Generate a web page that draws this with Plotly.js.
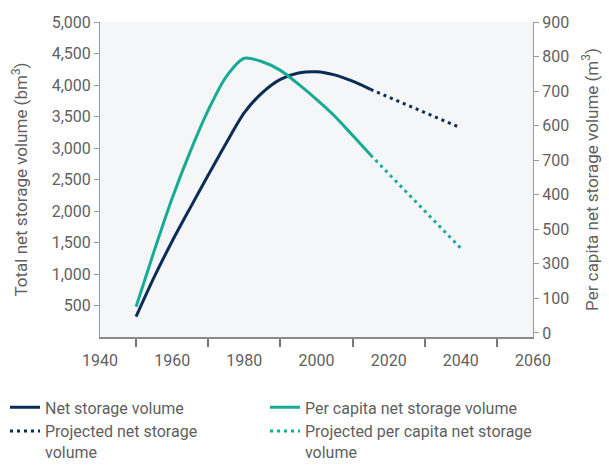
<!DOCTYPE html>
<html>
<head>
<meta charset="utf-8">
<script src="https://cdn.plot.ly/plotly-3.0.1.min.js"></script>
<style>html,body{margin:0;padding:0;background:#fff;}#chart{width:609px;height:465px;}</style>
</head>
<body>
<div id="chart"></div>
<script>
// Net storage volume (bm3), historical
const netYears = [1950, 1955, 1960, 1965, 1970, 1975, 1980, 1985, 1990, 1995, 2000, 2005, 2010, 2015];
const netVolume = [324, 950, 1520, 2050, 2570, 3080, 3560, 3880, 4090, 4190, 4210, 4160, 4060, 3930];
// Projected net storage volume
const netProjYears = [2015, 2040];
const netProjVolume = [3930, 3320];
// Per capita net storage volume (m3), historical
const pcYears = [1950, 1955, 1960, 1965, 1970, 1975, 1980, 1985, 1990, 1995, 2000, 2005, 2010, 2015];
const pcVolume = [76, 237, 390, 525, 645, 742, 795, 785, 760, 720, 676, 628, 572, 515];
// Projected per capita net storage volume
const pcProjYears = [2015, 2040];
const pcProjVolume = [515, 245];

// Axis ticks
const xLabelVals = [1940, 1960, 1980, 2000, 2020, 2040, 2060];
const xTickVals = [1950, 1970, 1990, 2010, 2030, 2050];
const leftTickVals = [500, 1000, 1500, 2000, 2500, 3000, 3500, 4000, 4500, 5000];
const rightTickVals = [900, 800, 700, 600, 500, 400, 300, 200, 100, 0];
const rightTickText = ['900', '800', '700', '600', '700', '400', '500', '300', '100', '0'];

const NAVY = '#0b2c55';
const TEAL = '#17ab96';
const GREY_TXT = '#5f5f5f';
const AXIS = '#9a9a9a';

const traces = [
  {x: netYears, y: netVolume, name: 'Net storage volume', mode: 'lines',
   line: {color: NAVY, width: 3, shape: 'spline', smoothing: 0.8}, yaxis: 'y', legend: 'legend'},
  {x: netProjYears, y: netProjVolume, name: 'Projected net storage<br>volume', mode: 'lines',
   line: {color: NAVY, width: 3, dash: '3px,4px'}, yaxis: 'y', legend: 'legend'},
  {x: pcYears, y: pcVolume, name: 'Per capita net storage volume', mode: 'lines',
   line: {color: TEAL, width: 3, shape: 'spline', smoothing: 0.8}, yaxis: 'y2', legend: 'legend2'},
  {x: pcProjYears, y: pcProjVolume, name: 'Projected per capita net storage<br>volume', mode: 'lines',
   line: {color: TEAL, width: 3, dash: '3px,4px'}, yaxis: 'y2', legend: 'legend2'}
];

const legendCommon = {
  orientation: 'v', xanchor: 'left', yanchor: 'top',
  valign: 'top', font: {size: 16, color: GREY_TXT}, traceorder: 'normal',
  tracegroupgap: 0, bgcolor: 'rgba(0,0,0,0)'
};

const layout = {
  width: 609, height: 465,
  margin: {l: 100, r: 76, t: 22, b: 128, autoexpand: false},
  paper_bgcolor: '#ffffff',
  plot_bgcolor: '#f5f6f8',
  font: {family: 'Roboto, Arial, sans-serif', size: 16, color: GREY_TXT},
  showlegend: true,
  legend: Object.assign({}, legendCommon, {x: -0.2194, y: -0.1695}),
  legend2: Object.assign({}, legendCommon, {x: 0.381, y: -0.1695}),
  xaxis: {
    range: [1940, 2060], tickmode: 'array', tickvals: xLabelVals,
    ticks: 'outside', ticklen: 8, tickcolor: 'rgba(0,0,0,0)',
    minor: {tickmode: 'array', tickvals: xTickVals, ticks: 'outside', ticklen: 8, tickcolor: '#777', tickwidth: 2},
    showgrid: false, zeroline: false, showline: true, linecolor: '#8a8a8a', linewidth: 2,
    tickfont: {size: 16, color: GREY_TXT}
  },
  yaxis: {
    range: [0, 5000], tickmode: 'array', tickvals: leftTickVals, tickformat: ',d',
    ticks: 'outside', ticklen: 5, tickcolor: AXIS,
    showgrid: false, zeroline: false, showline: true, linecolor: AXIS, linewidth: 1,
    tickfont: {size: 16, color: GREY_TXT},
    title: {text: 'Total net storage volume (bm<sup>3</sup>)', font: {size: 17, color: GREY_TXT}, standoff: 19}
  },
  yaxis2: {
    range: [-11.6, 900], overlaying: 'y', side: 'right', tickmode: 'array',
    tickvals: rightTickVals, ticktext: rightTickText,
    ticks: 'outside', ticklen: 5, tickcolor: AXIS,
    showgrid: false, zeroline: false, showline: true, linecolor: AXIS, linewidth: 1,
    tickfont: {size: 16, color: GREY_TXT},
    title: {text: 'Per capita net storage volume (m<sup>3</sup>)', font: {size: 17, color: GREY_TXT}, standoff: 17}
  }
};

Plotly.newPlot('chart', traces, layout, {displayModeBar: false, staticPlot: true});
</script>
</body>
</html>
